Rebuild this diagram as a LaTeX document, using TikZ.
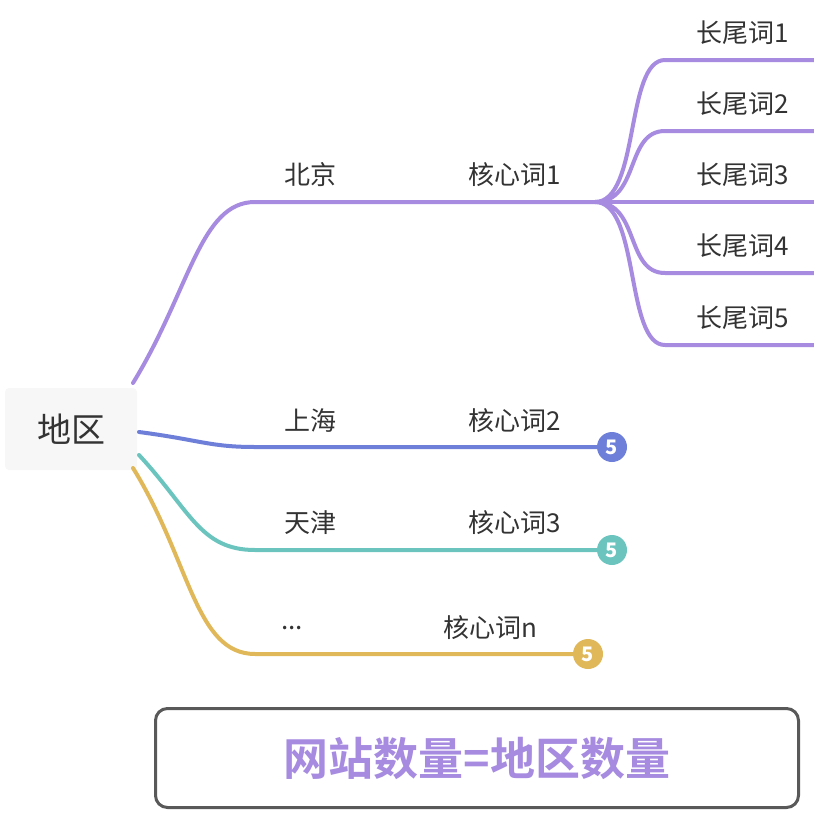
\documentclass[tikz,border=0pt]{standalone}
\usepackage{fontspec}
\setmainfont{Noto Sans CJK SC}
\newfontfamily\cjkb[BoldFont={Noto Sans CJK SC Bold}]{Noto Sans CJK SC}
\definecolor{pur}{HTML}{A68BE0}
\definecolor{blu}{HTML}{6E7FD9}
\definecolor{tea}{HTML}{6CC4BF}
\definecolor{yel}{HTML}{E0B85A}
\definecolor{txt}{HTML}{333333}
\begin{document}
\begin{tikzpicture}[x=1pt,y=-1pt,
  br/.style={line width=4pt,line cap=round},
  lbl/.style={font=\fontsize{26}{28}\selectfont,text=txt,inner sep=0pt},
  num/.style={circle,minimum size=30pt,inner sep=0pt,text=white,font=\bfseries\fontsize{20}{22}\selectfont}]
\useasboundingbox (0,0) rectangle (814,814);
\node[fill=black!3,rounded corners=4pt,minimum width=132pt,minimum height=82pt,font=\fontsize{34}{36}\selectfont,text=txt] (root) at (71,429) {地区};
\coordinate (r1) at (133,383);
\coordinate (r2) at (139,432);
\coordinate (r3) at (139,455);
\coordinate (r4) at (133,468);
% purple
\coordinate (p0) at (255,202);
\coordinate (hub) at (595,202);
\draw[br,pur] (r1) .. controls (190,290) and (200,202) .. (p0) -- (hub);
\foreach \y/\i in {60/1,131/2,202/3,273/4,345/5}{
  \coordinate (e\i) at (814,\y);
  \draw[br,pur] (hub) .. controls (640,202) and (625,\y) .. (665,\y) -- (e\i);
  \node[lbl] (l\i) at (743,\y-27) {长尾词\i};
}
\node[lbl] (bj) at (310,175) {北京};
\node[lbl] (k1) at (515,175) {核心词1};
% blue
\node[num,fill=blu] (n2) at (612,447) {5};
\draw[br,blu] (r2) .. controls (200,440) and (210,447) .. (255,447) -- (n2.west);
\node[lbl] (sh) at (310,421) {上海};
\node[lbl] (k2) at (515,421) {核心词2};
% teal
\node[num,fill=tea] (n3) at (612,550) {5};
\draw[br,tea] (r3) .. controls (190,510) and (200,550) .. (255,550) -- (n3.west);
\node[lbl] (tj) at (310,523) {天津};
\node[lbl] (k3) at (515,523) {核心词3};
% yellow
\node[num,fill=yel] (n4) at (588,654) {5};
\draw[br,yel] (r4) .. controls (190,560) and (195,654) .. (255,654) -- (n4.west);
\node[lbl] (dd) at (292,628) {...};
\node[lbl] (k4) at (490,628) {核心词n};
% box
\node[draw=black!65,line width=3pt,rounded corners=12pt,minimum width=643pt,minimum height=99pt,text=pur,font=\cjkb\bfseries\fontsize{45}{47}\selectfont] (box) at (477,758) {网站数量=地区数量};
\end{tikzpicture}
\end{document}
